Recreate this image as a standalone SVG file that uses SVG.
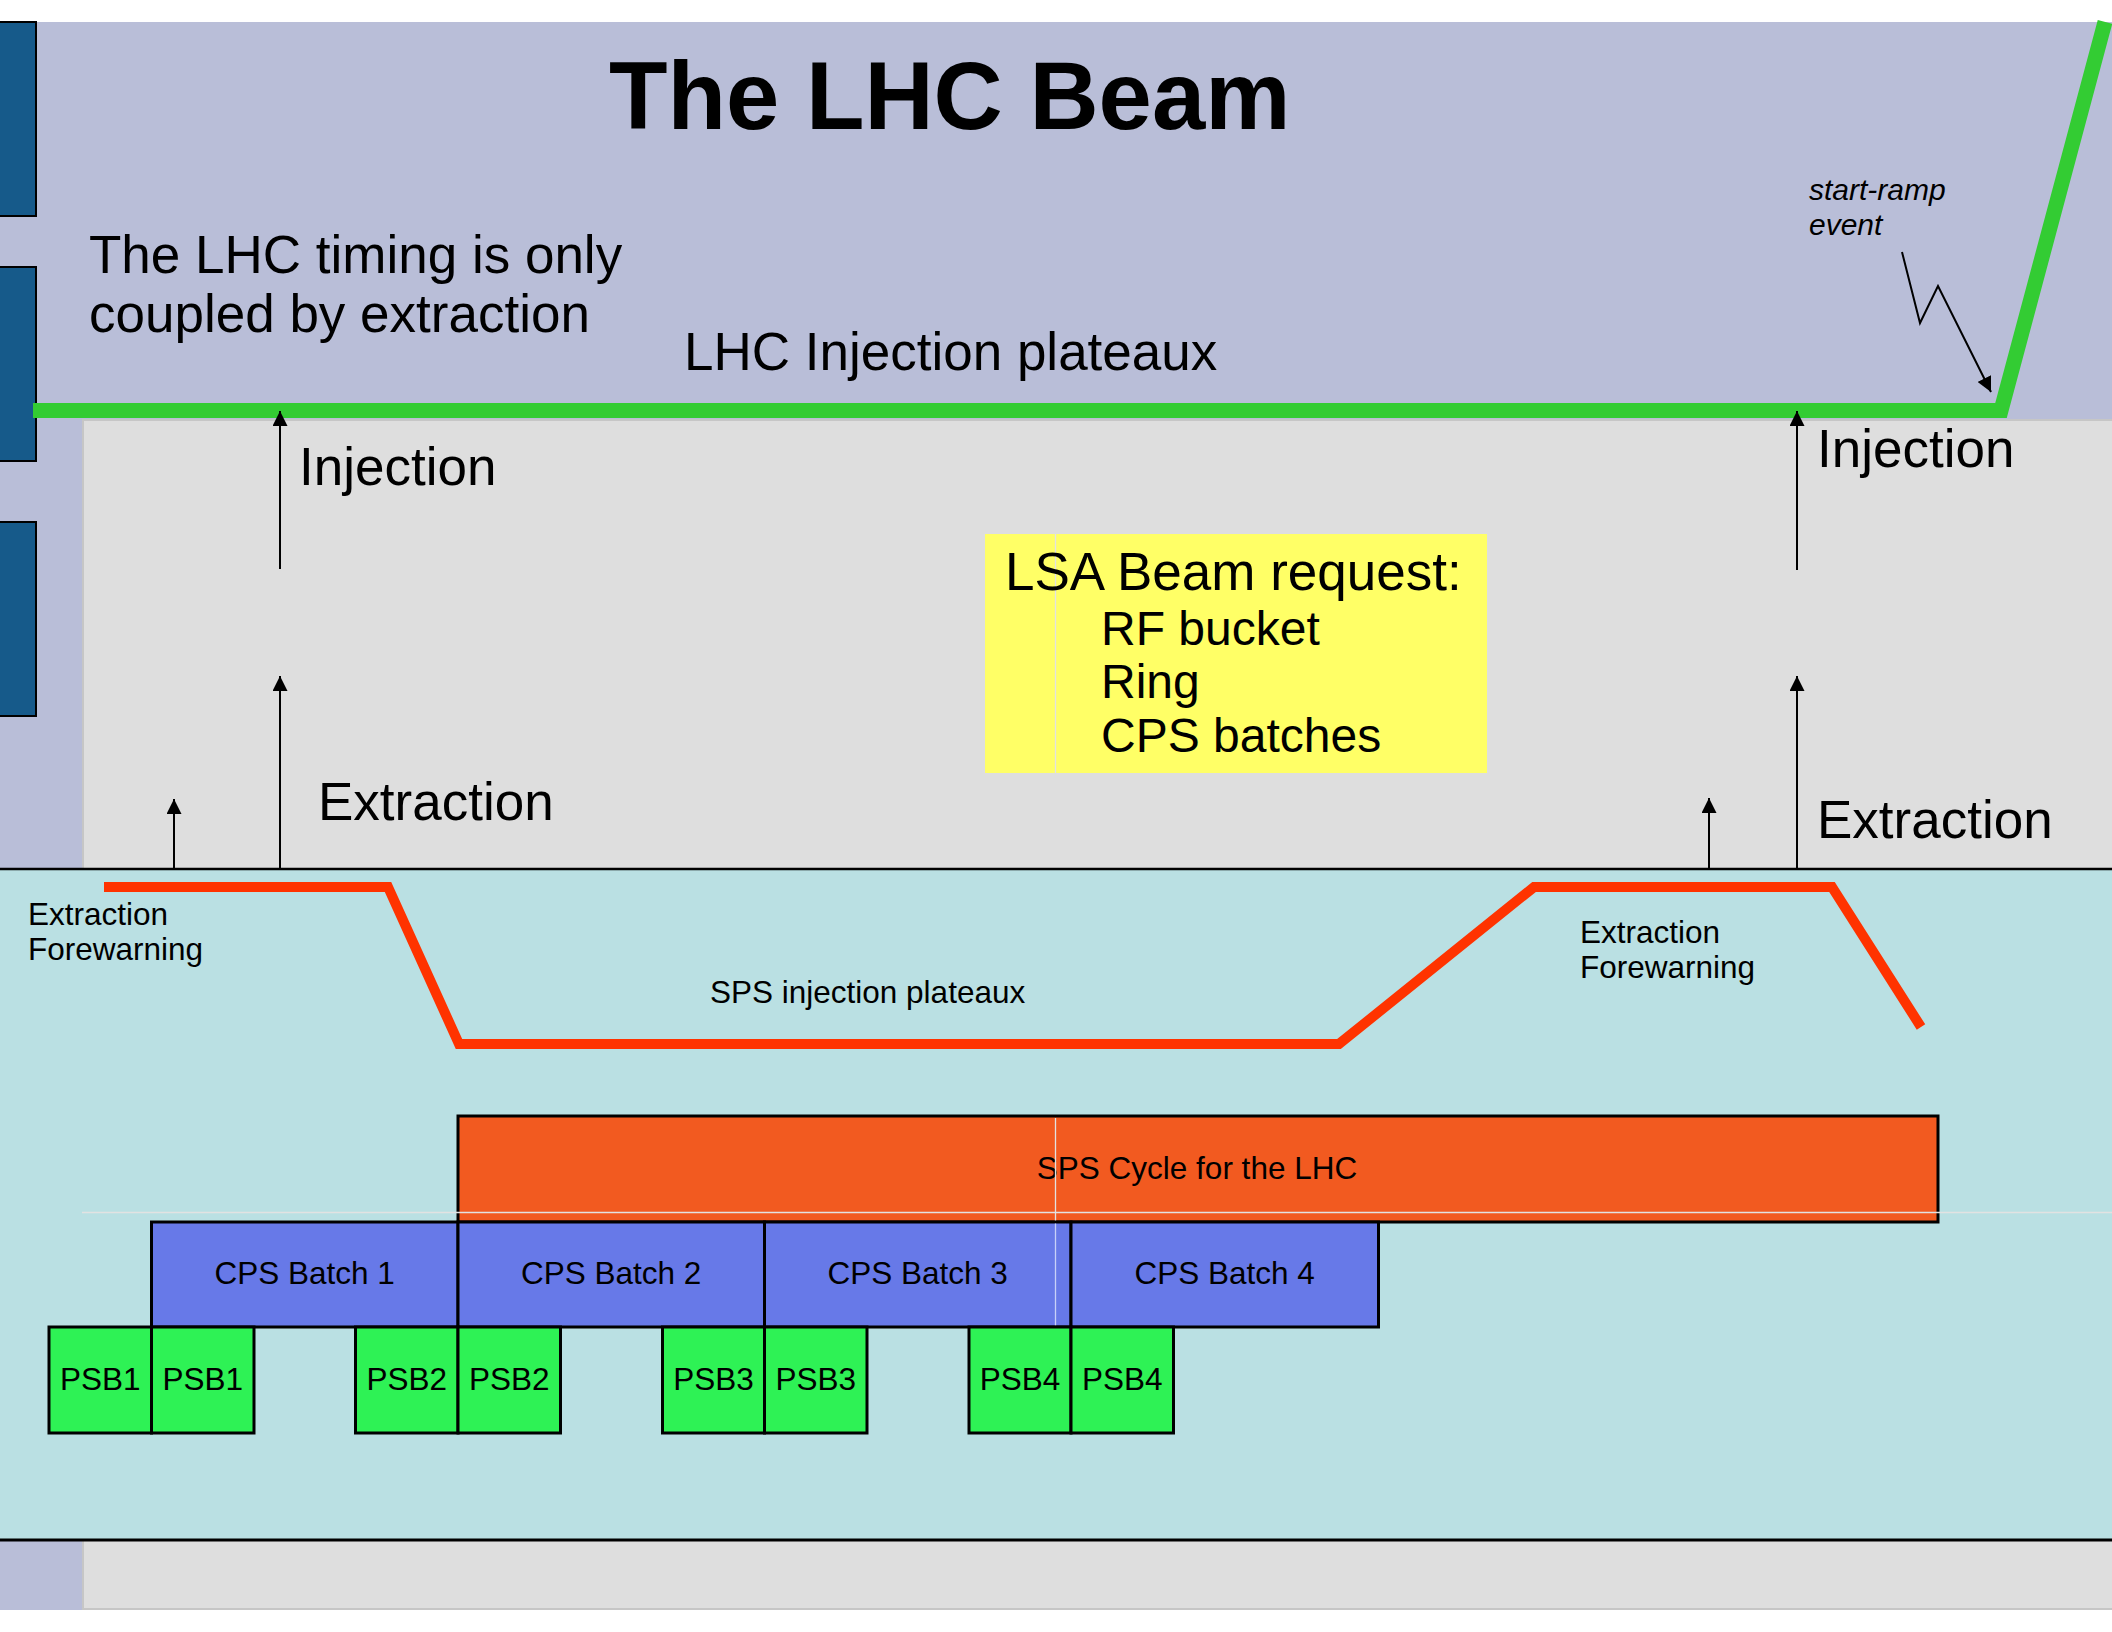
<svg xmlns="http://www.w3.org/2000/svg" width="2112" height="1632" viewBox="0 0 2112 1632">
<style>
text{font-family:"Liberation Sans",Arial,sans-serif;fill:#000}
.big{font-size:53px}
.mid{font-size:48px}
.sm{font-size:31.5px}
.box{stroke:#000;stroke-width:3}
.cps{fill:#6779E8}
.psb{fill:#2EF255}
.arr{stroke:#000;stroke-width:2;fill:none}
.guide{stroke:#E2E2E2;stroke-width:1.3;fill:none}
</style>
<defs>
<marker id="ah" viewBox="0 0 10 10" refX="10" refY="5" markerWidth="7.5" markerHeight="7.5" orient="auto" markerUnits="strokeWidth">
<path d="M0,0 L10,5 L0,10 Z" fill="#000"/>
</marker>
</defs>
<rect x="0" y="0" width="2112" height="1632" fill="#fff"/>
<g id="background">
<rect x="0" y="22" width="2112" height="1588" fill="#B9BED8"/>
<rect x="82" y="419" width="2030" height="1191" fill="#C6C6C6"/>
<rect x="84" y="421" width="2028" height="1187" fill="#DEDEDE"/>
<rect x="0" y="869" width="2112" height="671" fill="#BAE0E3"/>
<line x1="0" y1="869" x2="2112" y2="869" stroke="#000" stroke-width="2.5"/>
<line x1="0" y1="1540" x2="2112" y2="1540" stroke="#000" stroke-width="3"/>
</g>
<g id="side-bars" fill="#165A8A" stroke="#000" stroke-width="2">
<rect x="-2" y="22" width="38" height="194"/>
<rect x="-2" y="267" width="38" height="194"/>
<rect x="-2" y="522" width="38" height="194"/>
</g>
<g id="title"><text x="609" y="129" font-size="95.8" font-weight="bold">The LHC Beam</text></g>
<g id="timing-note"><text class="big" x="89" y="273">The LHC timing is only</text><text class="big" x="89" y="332">coupled by extraction</text></g>
<g id="lhc-plateau-label"><text class="big" x="684" y="370">LHC Injection plateaux</text></g>
<g id="start-ramp-label"><text font-size="30" font-style="italic" x="1809" y="200">start-ramp</text><text font-size="30" font-style="italic" x="1809" y="235">event</text></g>
<g id="lhc-line"><polyline points="33,410.5 2001,410.5 2105,22" fill="none" stroke="#33CC33" stroke-width="15" stroke-linejoin="miter"/></g>
<g id="lsa-request">
<rect x="985" y="534" width="502" height="239" fill="#FFFF66"/>
<line class="guide" x1="1055.5" y1="534" x2="1055.5" y2="773" stroke="#D8D8F0"/>
<text class="big" x="1005" y="590">LSA Beam request:</text>
<text class="mid" x="1101" y="645">RF bucket</text>
<text class="mid" x="1101" y="698">Ring</text>
<text class="mid" x="1101" y="752">CPS batches</text>
</g>
<g id="labels">
<text class="big" x="299" y="485">Injection</text>
<text class="big" x="318" y="820">Extraction</text>
<text class="big" x="1817" y="467">Injection</text>
<text class="big" x="1817" y="838">Extraction</text>
<text class="sm" x="28" y="925">Extraction</text>
<text class="sm" x="28" y="960">Forewarning</text>
<text class="sm" x="1580" y="943">Extraction</text>
<text class="sm" x="1580" y="978">Forewarning</text>
<text class="sm" x="710" y="1003">SPS injection plateaux</text>
</g>
<g id="sps-line"><polyline points="104,887 388,887 459,1044 1339,1044 1534,887 1832,887 1921,1027" fill="none" stroke="#FF3300" stroke-width="10" stroke-linejoin="miter"/></g>
<g id="connectors">
<line class="arr" x1="280" y1="569" x2="280" y2="411" marker-end="url(#ah)"/>
<line class="arr" x1="280" y1="869" x2="280" y2="676" marker-end="url(#ah)"/>
<line class="arr" x1="174" y1="869" x2="174" y2="799" marker-end="url(#ah)"/>
<line class="arr" x1="1797" y1="570" x2="1797" y2="411" marker-end="url(#ah)"/>
<line class="arr" x1="1797" y1="869" x2="1797" y2="676" marker-end="url(#ah)"/>
<line class="arr" x1="1709" y1="869" x2="1709" y2="798" marker-end="url(#ah)"/>
<polyline class="arr" points="1902,252 1920,323 1938,286 1991,392" marker-end="url(#ah)"/>
</g>
<g id="sps-cycle">
<rect class="box" x="458" y="1116" width="1480" height="106" fill="#F25A20"/>
<text class="sm" x="1197" y="1179" text-anchor="middle">SPS Cycle for the LHC</text>
</g>
<g id="guides">
<line class="guide" x1="82" y1="1212.5" x2="2112" y2="1212.5"/>
<line class="guide" x1="1055.5" y1="1118" x2="1055.5" y2="1326" stroke="#EDEDF8"/>
</g>
<g id="cps-batch-1"><rect class="box cps" x="151.5" y="1222" width="306.5" height="105"/><text class="sm" x="304.7" y="1284" text-anchor="middle">CPS Batch 1</text></g>
<g id="cps-batch-2"><rect class="box cps" x="458" y="1222" width="306.5" height="105"/><text class="sm" x="611.2" y="1284" text-anchor="middle">CPS Batch 2</text></g>
<g id="cps-batch-3"><rect class="box cps" x="764.5" y="1222" width="306.5" height="105"/><line x1="1055.5" y1="1223.5" x2="1055.5" y2="1325.5" stroke="#C8D0F8" stroke-width="1.3"/><text class="sm" x="917.7" y="1284" text-anchor="middle">CPS Batch 3</text></g>
<g id="cps-batch-4"><rect class="box cps" x="1071" y="1222" width="307.5" height="105"/><text class="sm" x="1224.7" y="1284" text-anchor="middle">CPS Batch 4</text></g>
<g id="psb1a"><rect class="box psb" x="49" y="1327" width="102.5" height="106"/><text class="sm" x="100.3" y="1390" text-anchor="middle">PSB1</text></g>
<g id="psb1b"><rect class="box psb" x="151.5" y="1327" width="102.5" height="106"/><text class="sm" x="202.7" y="1390" text-anchor="middle">PSB1</text></g>
<g id="psb2a"><rect class="box psb" x="355.5" y="1327" width="102.5" height="106"/><text class="sm" x="406.7" y="1390" text-anchor="middle">PSB2</text></g>
<g id="psb2b"><rect class="box psb" x="458" y="1327" width="102.5" height="106"/><text class="sm" x="509.2" y="1390" text-anchor="middle">PSB2</text></g>
<g id="psb3a"><rect class="box psb" x="662.5" y="1327" width="102" height="106"/><text class="sm" x="713.5" y="1390" text-anchor="middle">PSB3</text></g>
<g id="psb3b"><rect class="box psb" x="764.5" y="1327" width="102.5" height="106"/><text class="sm" x="815.7" y="1390" text-anchor="middle">PSB3</text></g>
<g id="psb4a"><rect class="box psb" x="969" y="1327" width="102" height="106"/><text class="sm" x="1020" y="1390" text-anchor="middle">PSB4</text></g>
<g id="psb4b"><rect class="box psb" x="1071" y="1327" width="102.5" height="106"/><text class="sm" x="1122.2" y="1390" text-anchor="middle">PSB4</text></g>
</svg>
